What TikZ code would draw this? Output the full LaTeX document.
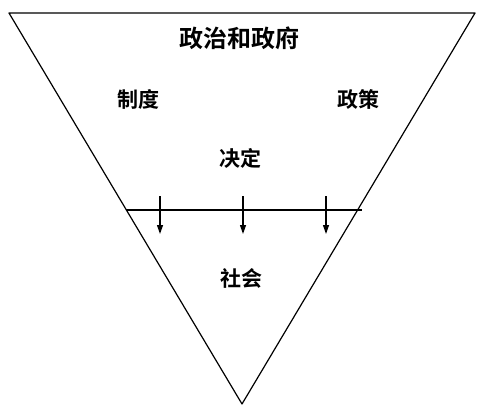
\documentclass[tikz,border=0pt]{standalone}
\usepackage{fontspec}
\newfontfamily\cjk{Noto Sans CJK SC Bold}
\usetikzlibrary{arrows.meta, positioning}
\tikzset{
	edge/.style   ={line width=1.2pt, line join=round},
	flowdown/.style={-{Triangle[length=9pt, width=6pt]}, line width=1.2pt},
	lbl/.style    ={font=\cjk\fontsize{21}{21}\selectfont, inner sep=0pt},
	toplbl/.style ={font=\cjk\fontsize{24}{24}\selectfont, inner sep=0pt},
}
\begin{document}
\begin{tikzpicture}[x=1pt, y=-1pt]
	\useasboundingbox (0,0) rectangle (477,408);
	% inverted triangle
	\coordinate (tl) at (9,13);
	\coordinate (tr) at (475,13);
	\coordinate (apex) at (242,404);
	\draw[edge] (tl) -- (tr) -- (apex) -- cycle;
	% labels
	\node[toplbl] (gov) at (239,38) {政治和政府};
	\node[lbl] (inst) at (138,99) {制度};
	\node[lbl] (pol) at (358,99) {政策};
	\node[lbl] (dec) at (240,158) {决定};
	\node[lbl] (soc) at (241,278) {社会};
	% dividing line and downward arrows
	\coordinate (ml) at (126,210);
	\coordinate (mr) at (362,210);
	\draw[edge] (ml) -- (mr);
	\foreach \i/\x in {1/160, 2/243, 3/326} {
		\coordinate (s\i) at (\x,196);
		\coordinate (e\i) at (\x,234);
		\draw[flowdown] (s\i) -- (e\i);
	}
\end{tikzpicture}
\end{document}
